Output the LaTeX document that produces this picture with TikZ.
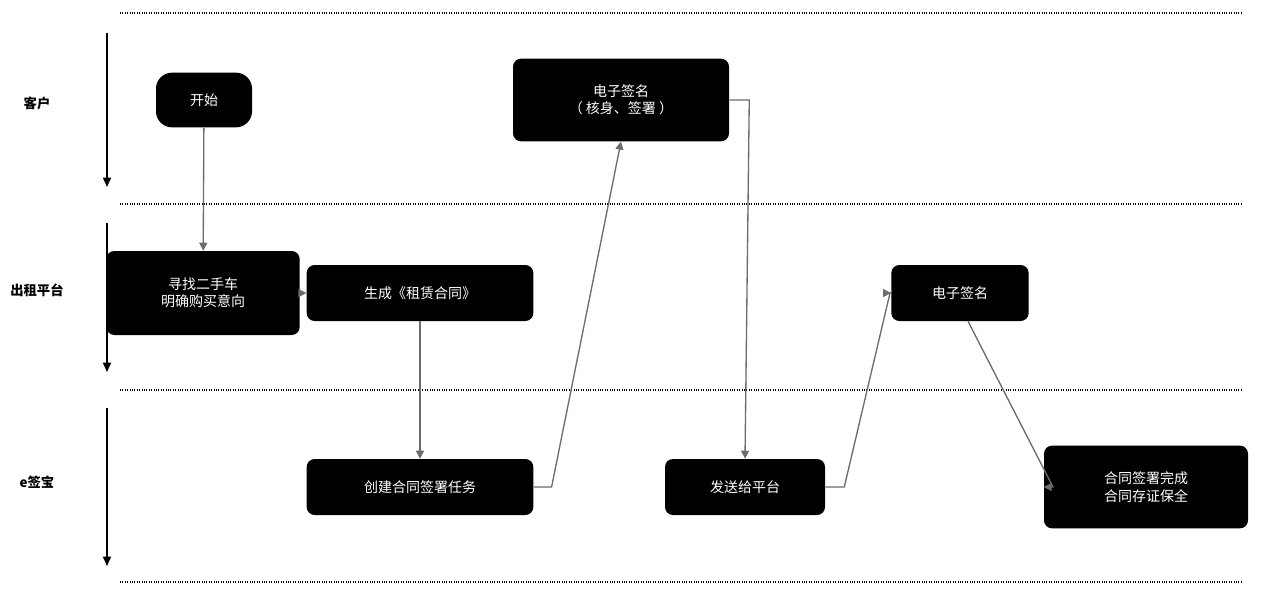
\documentclass[tikz,border=0pt]{standalone}
\usepackage{fontspec}
\setmainfont{Noto Sans CJK SC}
\usetikzlibrary{arrows.meta}
\begin{document}
\begin{tikzpicture}[x=0.75pt,y=-0.75pt,
  box/.style={fill=black,text=white,rounded corners=6pt,inner sep=0pt,align=center,font=\fontsize{10.5}{13}\selectfont},
  conn/.style={draw=gray!85!black,line width=1pt,-{Triangle[length=6pt,width=6pt]}},
  sep/.style={densely dotted,line width=0.8pt},
  lane/.style={line width=1.2pt,-{Triangle[length=7pt,width=6pt]}},
  lbl/.style={font=\fontsize{10}{12}\selectfont\bfseries}]
\useasboundingbox (0,0) rectangle (1271,600);
\foreach \y in {13,204,390,582} \draw[sep] (120,\y) -- (1242,\y);
\coordinate (a1) at (107,33); \coordinate (a2) at (107,187);
\coordinate (b1) at (107,223); \coordinate (b2) at (107,372);
\coordinate (c1) at (107,408); \coordinate (c2) at (107,566);
\draw[lane] (a1) -- (a2); \draw[lane] (b1) -- (b2); \draw[lane] (c1) -- (c2);
\node[lbl] (l1) at (37,103) {客户};
\node[lbl] (l2) at (37,290) {出租平台};
\node[lbl] (l3) at (37,482) {e签宝};
\node[box,minimum width=72,minimum height=41,rounded corners=12pt] (start) at (204,100) {开始};
\node[box,minimum width=145,minimum height=63] (find) at (203,293) {寻找二手车\\明确购买意向};
\node[box,minimum width=170,minimum height=42] (gen) at (420,293) {生成《租赁合同》};
\node[box,minimum width=170,minimum height=42] (create) at (420,487) {创建合同签署任务};
\node[box,minimum width=162,minimum height=62] (sign1) at (621,100) {电子签名\\（ 核身、签署 ）};
\node[box,minimum width=120,minimum height=42] (send) at (745,487) {发送给平台};
\node[box,minimum width=103,minimum height=42] (sign2) at (960,293) {电子签名};
\node[box,minimum width=153,minimum height=62] (done) at (1146,487) {合同签署完成\\合同存证保全};
\draw[conn] (start) -- (find);
\draw[conn] (find) -- (gen);
\draw[conn] (gen) -- (create);
\draw[conn] (create.east) -- ++(18,0) -- (sign1.south);
\draw[conn] (sign1.east) -- ++(20,0) -- (send.north);
\draw[conn] (send.east) -- ++(19,0) -- (890,293) -- (sign2.west);
\draw[conn] (sign2.south) ++(8,0) -- (1053,487) -- (done.west);
\end{tikzpicture}
\end{document}
